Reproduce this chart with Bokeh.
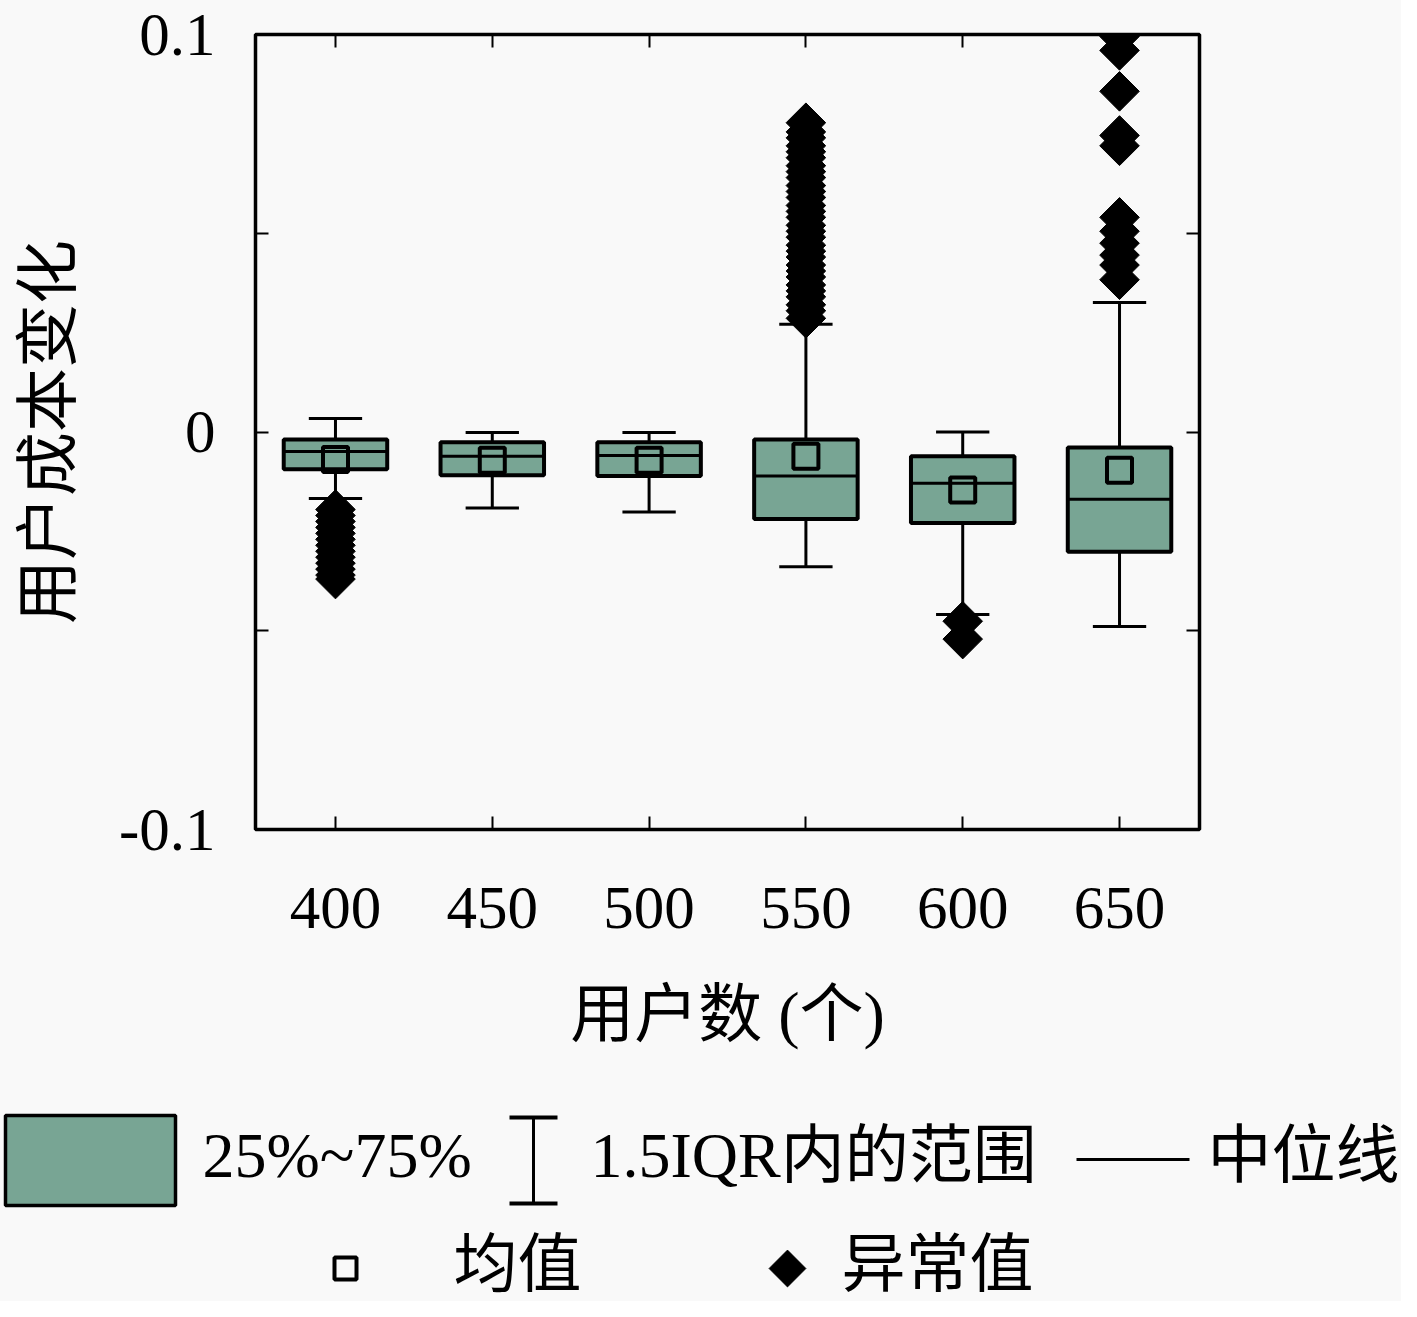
import numpy as np
from bokeh.plotting import figure
from bokeh.models import FixedTicker, LinearAxis, Range1d, ColumnDataSource, CustomJSTickFormatter
from bokeh.layouts import column
from bokeh.core.properties import value
from bokeh.embed import file_html
from bokeh.resources import INLINE

# ---------------- data ----------------
users = [400, 450, 500, 550, 600, 650]
q1 = [-0.0094, -0.0109, -0.0111, -0.0219, -0.0229, -0.0301]
q3 = [-0.0019, -0.0026, -0.0026, -0.0019, -0.0061, -0.0039]
median = [-0.0049, -0.0061, -0.0059, -0.0111, -0.0129, -0.0169]
mean = [-0.0069, -0.0071, -0.0071, -0.0061, -0.0146, -0.0096]
whisker_hi = [0.0034, -0.0001, -0.0001, 0.0271, 0.0000, 0.0326]
whisker_lo = [-0.0167, -0.0191, -0.0201, -0.0339, -0.0459, -0.0489]
outliers = {
    400: [-0.0195, -0.021, -0.0225, -0.024, -0.0255, -0.027, -0.0285, -0.030,
          -0.0315, -0.033, -0.0345, -0.036, -0.037],
    450: [],
    500: [],
    550: [0.0286, 0.0305, 0.032, 0.034, 0.0355, 0.037, 0.039, 0.0405, 0.042,
          0.044, 0.0455, 0.047, 0.049, 0.0505, 0.052, 0.054, 0.0555, 0.057,
          0.059, 0.0605, 0.062, 0.064, 0.0655, 0.067, 0.069, 0.0705, 0.072,
          0.074, 0.0755, 0.0778],
    600: [-0.0476, -0.0521],
    650: [0.0995, 0.0960, 0.0857, 0.0746, 0.0720, 0.0540, 0.0505, 0.0475,
          0.0445, 0.0420, 0.0383],
}
y_ticks = [-0.1, 0.0, 0.1]
y_minor = [-0.05, 0.05]

x_label = "用户数 (个)"
y_label = "用户成本变化"
legend_labels = ["25%~75%", "1.5IQR内的范围", "中位线", "均值", "异常值"]

# ---------------- style ----------------
BG = "#f9f9f9"
BOX = "#78a594"
FONT = "Liberation Serif, Noto Sans CJK SC"
BOX_W = 33
CAP_W = 17

p = figure(width=1401, height=1090, output_backend="svg", toolbar_location=None,
           x_range=Range1d(374.5, 675.5), y_range=Range1d(-0.1, 0.1),
           min_border_left=255, min_border_right=202, min_border_top=34,
           min_border_bottom=261)
p.frame_align = False
p.background_fill_color = BG
p.border_fill_color = BG
p.outline_line_color = "black"
p.outline_line_width = 3.5
p.xgrid.visible = False
p.ygrid.visible = False

xa = p.xaxis[0]
xa.ticker = FixedTicker(ticks=users)
ya = p.yaxis[0]
ya.ticker = FixedTicker(ticks=y_ticks, minor_ticks=y_minor)
ya.major_label_overrides = {0: "0", 0.1: "0.1", -0.1: "-0.1"}

for ax in (xa, ya):
    ax.axis_line_color = None
    ax.major_tick_in = 13
    ax.major_tick_out = 0
    ax.minor_tick_in = 13
    ax.minor_tick_out = 0
    ax.major_tick_line_width = 2
    ax.minor_tick_line_width = 2
    ax.major_label_text_font = FONT
    ax.major_label_text_font_size = "61px"
    ax.major_label_text_color = "black"
    ax.axis_label_text_font = FONT
    ax.axis_label_text_font_size = "64px"
    ax.axis_label_text_font_style = "normal"
    ax.axis_label_text_color = "black"

xa.axis_label = x_label
xa.major_label_standoff = 58
xa.axis_label_standoff = 48
xa.minor_tick_in = 0
ya.axis_label = y_label
ya.major_label_standoff = 40
ya.axis_label_standoff = 32

blank = CustomJSTickFormatter(code="return '';")
top = LinearAxis(ticker=FixedTicker(ticks=users), formatter=blank,
                 axis_line_color=None, major_tick_in=13, major_tick_out=0,
                 major_tick_line_width=2, minor_tick_in=0, minor_tick_out=0,
                 major_label_standoff=0)
p.add_layout(top, "above")
right = LinearAxis(ticker=FixedTicker(ticks=y_ticks, minor_ticks=y_minor),
                   formatter=blank, axis_line_color=None,
                   major_tick_in=13, major_tick_out=0, major_tick_line_width=2,
                   minor_tick_in=13, minor_tick_out=0, minor_tick_line_width=2,
                   major_label_standoff=0)
p.add_layout(right, "right")

src = ColumnDataSource(dict(x=users, q1=q1, q3=q3, med=median, mean=mean,
                            hi=whisker_hi, lo=whisker_lo,
                            l=[u - BOX_W / 2 for u in users],
                            r=[u + BOX_W / 2 for u in users],
                            cl=[u - CAP_W / 2 for u in users],
                            cr=[u + CAP_W / 2 for u in users]))

# whiskers
p.segment(x0="x", y0="q3", x1="x", y1="hi", source=src, line_color="black", line_width=3)
p.segment(x0="x", y0="q1", x1="x", y1="lo", source=src, line_color="black", line_width=3)
p.segment(x0="cl", y0="hi", x1="cr", y1="hi", source=src, line_color="black", line_width=3)
p.segment(x0="cl", y0="lo", x1="cr", y1="lo", source=src, line_color="black", line_width=3)
# boxes
p.vbar(x="x", width=BOX_W, top="q3", bottom="q1", source=src, fill_color=BOX,
       line_color="black", line_width=4)
# medians
p.segment(x0="l", y0="med", x1="r", y1="med", source=src, line_color="black", line_width=3)
# means
p.scatter(x="x", y="mean", source=src, marker="square", size=25, fill_alpha=0,
          line_color="black", line_width=4)
# outliers
ox, oy = [], []
for u in users:
    for v in outliers[u]:
        ox.append(u)
        oy.append(v)
p.scatter(x=ox, y=oy, marker="square", angle=np.pi / 4, size=28,
          fill_color="black", line_color="black")

# ---------------- legend panel ----------------
LH = 211
leg = figure(width=1401, height=LH, output_backend="svg", toolbar_location=None,
             x_range=Range1d(0, 1401), y_range=Range1d(0, LH),
             min_border=0, x_axis_location=None, y_axis_location=None)
leg.frame_align = False
leg.background_fill_color = BG
leg.border_fill_color = BG
leg.outline_line_color = None
leg.grid.visible = False

row1 = 142
row2 = 33
leg.rect(x=[90], y=[row1 - 1], width=[170], height=[90], fill_color=BOX,
         line_color="black", line_width=3.5)
leg.segment(x0=[533], y0=[row1 - 44], x1=[533], y1=[row1 + 42], line_color="black", line_width=3)
leg.segment(x0=[509, 509], y0=[row1 - 44, row1 + 42], x1=[557, 557],
            y1=[row1 - 44, row1 + 42], line_color="black", line_width=4)
leg.segment(x0=[1076], y0=[row1], x1=[1189], y1=[row1], line_color="black", line_width=3)
leg.scatter(x=[345], y=[row2], marker="square", size=22, fill_alpha=0,
            line_color="black", line_width=4)
leg.scatter(x=[787], y=[row2], marker="square", angle=np.pi / 4, size=26,
            fill_color="black", line_color="black")
leg.text(x=[202, 590, 1207, 453, 841], y=[row1 + 4, row1 + 4, row1 + 4, row2 + 4, row2 + 4],
         text=legend_labels, text_font=value(FONT), text_font_size="64px",
         text_baseline="middle", text_align="left", text_color="black")

layout = column(p, leg, spacing=0)
layout.styles = {"background-color": BG}
open("out.html", "w").write(file_html(layout, INLINE))
